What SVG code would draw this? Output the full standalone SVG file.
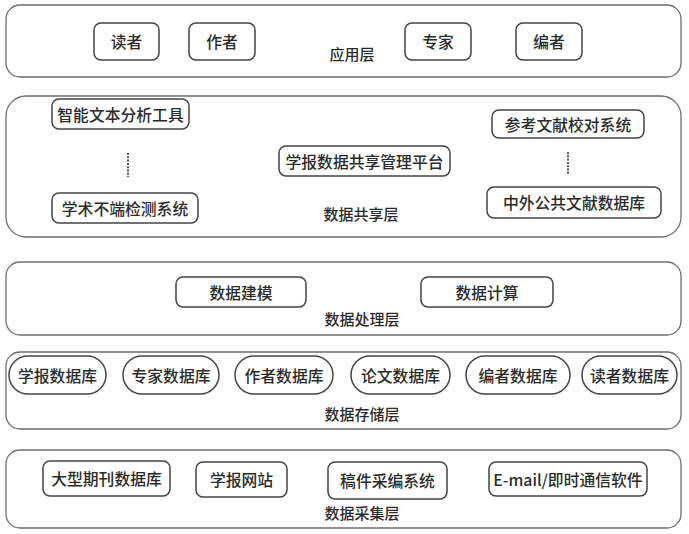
<svg xmlns="http://www.w3.org/2000/svg" width="689" height="534" viewBox="0 0 689 534">
<style>
.layer{fill:#fff;stroke:#6e6e6e;stroke-width:1.3}
.node{fill:#fff;stroke:#444;stroke-width:1.5}
.t{font-family:"Noto Sans CJK SC","Liberation Sans",sans-serif;font-size:15.8px;font-weight:500;fill:#2b2b2b;text-anchor:middle;dominant-baseline:central}
.lt{font-family:"Noto Sans CJK SC","Liberation Sans",sans-serif;font-size:15px;font-weight:500;fill:#2b2b2b;text-anchor:middle;dominant-baseline:central}
.dots{stroke:#555;stroke-width:2;stroke-dasharray:2 1.3;fill:none}
</style>
<rect width="689" height="534" fill="#fff"/>
<!-- layers -->
<g id="layer-app"><rect class="layer" x="6" y="5" width="675" height="72" rx="14"/><text class="lt" x="352" y="53">应用层</text></g>
<g id="layer-share"><rect class="layer" x="6" y="96" width="675" height="141" rx="20"/><text class="lt" x="361" y="213">数据共享层</text></g>
<g id="layer-proc"><rect class="layer" x="6" y="262" width="675" height="73" rx="14"/><text class="lt" x="362" y="318">数据处理层</text></g>
<g id="layer-store"><rect class="layer" x="6" y="352" width="675" height="77" rx="14"/><text class="lt" x="362" y="413">数据存储层</text></g>
<g id="layer-collect"><rect class="layer" x="6" y="450" width="675" height="78" rx="14"/><text class="lt" x="362" y="512">数据采集层</text></g>
<!-- application layer nodes -->
<g id="n-reader"><rect class="node" x="94" y="23" width="65" height="37" rx="7"/><text class="t" x="126.5" y="41.5">读者</text></g>
<g id="n-author"><rect class="node" x="189" y="23" width="66" height="37" rx="7"/><text class="t" x="222" y="41.5">作者</text></g>
<g id="n-expert"><rect class="node" x="405" y="23" width="66" height="37" rx="7"/><text class="t" x="438" y="41.5">专家</text></g>
<g id="n-editor"><rect class="node" x="516" y="23" width="66" height="37" rx="7"/><text class="t" x="549" y="41.5">编者</text></g>
<!-- sharing layer nodes -->
<g id="n-textanalysis"><rect class="node" x="52" y="99" width="137" height="30" rx="7"/><text class="t" x="120.5" y="114">智能文本分析工具</text></g>
<g id="n-misconduct"><rect class="node" x="52" y="193" width="146" height="30" rx="7"/><text class="t" x="125" y="208">学术不端检测系统</text></g>
<g id="n-platform"><rect class="node" x="279" y="146" width="171" height="30" rx="7"/><text class="t" x="364.5" y="161">学报数据共享管理平台</text></g>
<g id="n-refcheck"><rect class="node" x="492" y="110" width="152" height="28" rx="7"/><text class="t" x="568" y="124">参考文献校对系统</text></g>
<g id="n-publicdb"><rect class="node" x="487" y="187" width="174" height="31" rx="7"/><text class="t" x="574" y="202.5">中外公共文献数据库</text></g>
<!-- processing layer nodes -->
<g id="n-modeling"><rect class="node" x="176" y="277" width="130" height="30" rx="7"/><text class="t" x="241" y="292">数据建模</text></g>
<g id="n-compute"><rect class="node" x="421" y="277" width="132" height="30" rx="7"/><text class="t" x="487" y="292">数据计算</text></g>
<!-- storage layer nodes -->
<g id="n-db-journal"><rect class="node" x="9" y="356" width="97" height="38" rx="19"/><text class="t" x="57.5" y="375">学报数据库</text></g>
<g id="n-db-expert"><rect class="node" x="123" y="356" width="96" height="38" rx="19"/><text class="t" x="171" y="375">专家数据库</text></g>
<g id="n-db-author"><rect class="node" x="235" y="356" width="98" height="38" rx="19"/><text class="t" x="284" y="375">作者数据库</text></g>
<g id="n-db-paper"><rect class="node" x="351" y="356" width="99" height="38" rx="19"/><text class="t" x="400.5" y="375">论文数据库</text></g>
<g id="n-db-editor"><rect class="node" x="466" y="356" width="104" height="38" rx="19"/><text class="t" x="518" y="375">编者数据库</text></g>
<g id="n-db-reader"><rect class="node" x="582" y="356" width="95" height="38" rx="19"/><text class="t" x="629.5" y="375">读者数据库</text></g>
<!-- collection layer nodes -->
<g id="n-bigdb"><rect class="node" x="43" y="461" width="127" height="35" rx="7"/><text class="t" x="106.5" y="478.5">大型期刊数据库</text></g>
<g id="n-website"><rect class="node" x="196" y="462" width="91" height="35" rx="7"/><text class="t" x="241.5" y="479.5">学报网站</text></g>
<g id="n-manuscript"><rect class="node" x="328" y="462" width="119" height="37" rx="7"/><text class="t" x="387.5" y="480.5">稿件采编系统</text></g>
<g id="n-email"><rect class="node" x="489" y="462" width="158" height="34" rx="7"/><text class="t" x="568" y="479">E-mail/即时通信软件</text></g>
<!-- connectors / ellipsis -->
<g id="connectors">
<line class="dots" x1="128" y1="153" x2="128" y2="177"/>
<line class="dots" x1="568" y1="152" x2="568" y2="175"/>
</g>
</svg>
